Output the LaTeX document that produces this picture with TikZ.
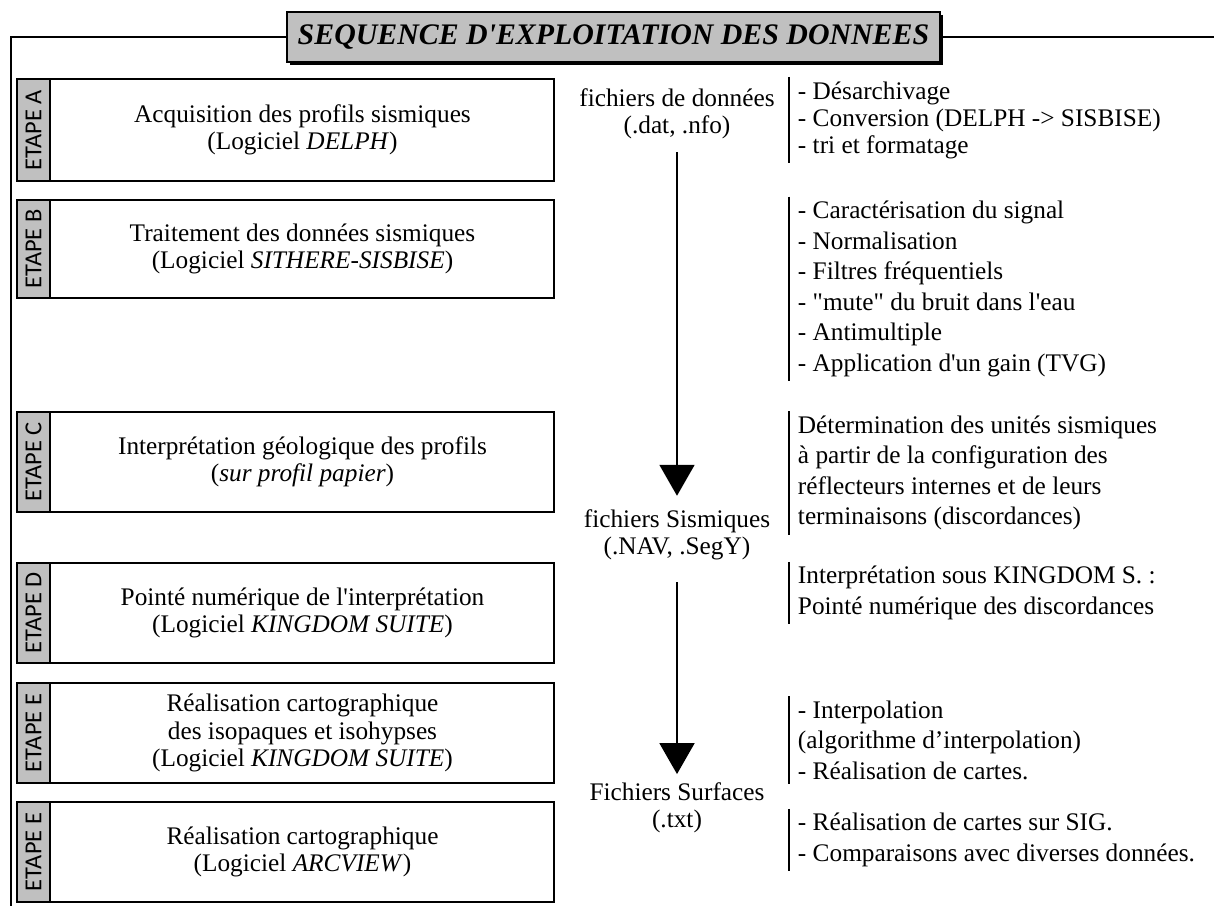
\documentclass[tikz,border=0pt]{standalone}
\usepackage{fontspec}
\setmainfont{Liberation Serif}[Ligatures=TeXOff]
\newfontfamily\tabfont{Carlito}
\usetikzlibrary{arrows.meta,positioning,shadows}
\definecolor{TabGray}{HTML}{C0C0C0}

\begin{document}
\begin{tikzpicture}[x=0.02cm,y=-0.02cm,line width=1.1pt,
    font=\fontsize{14.4}{15.65}\selectfont,
    titlebox/.style={draw,fill=TabGray,minimum width=13.06cm,minimum height=1cm,
      font=\fontsize{17}{20}\selectfont\bfseries\itshape,
      drop shadow={shadow xshift=0.06cm,shadow yshift=-0.06cm,fill=black,opacity=1}},
    stepbox/.style={draw,fill=white,minimum width=10.74cm,inner sep=0pt},
    tabbox/.style={draw,fill=TabGray,rotate=90,minimum height=0.66cm,inner sep=0pt,
      font=\tabfont\fontsize{13.9}{13.9}\selectfont},
    steptext/.style={align=center},
    filetext/.style={align=center},
    notelist/.style={align=left,anchor=west,inner xsep=0pt,inner ysep=2pt,
      font=\fontsize{14.4}{17.4}\selectfont},
    flow/.style={-{Triangle[width=0.7cm,length=0.62cm]},line width=1.1pt}]
  \useasboundingbox (0,0) rectangle (1214,906);

  % title and open frame
  \coordinate (frameBL) at (11,910);
  \coordinate (frameR) at (1214,37);
  \node[titlebox] (title) at (613.5,37) {SEQUENCE D'EXPLOITATION DES DONNEES};
  \draw (title.west) -| (frameBL);
  \draw (title.east) -- (frameR);

  % step boxes with their grey tabs
  \foreach \n/\y/\h/\l in {A/130/2.04/A,B/249/1.96/B,C/462/2/C,D/613/2/D,E/733/2/E,F/852/2/E}{
    \node[stepbox,minimum height=\h cm] (box\n) at (285.5,\y) {};
    \node[tabbox,minimum width=\h cm] (tab\n) at (33.5,\y) {ETAPE \l};
  }
  \node[steptext] (txtA) at (302.5,130) {Acquisition des profils sismiques\\(Logiciel \textit{DELPH})};
  \node[steptext] (txtB) at (302.5,249) {Traitement des données sismiques\\(Logiciel \textit{SITHERE-SISBISE})};
  \node[steptext] (txtC) at (302.5,462) {Interprétation géologique des profils\\(\textit{sur profil papier})};
  \node[steptext] (txtD) at (302.5,613) {Pointé numérique de l'interprétation\\(Logiciel \textit{KINGDOM SUITE})};
  \node[steptext] (txtE) at (302.5,733) {Réalisation cartographique\\des isopaques et isohypses\\(Logiciel \textit{KINGDOM SUITE})};
  \node[steptext] (txtF) at (302.5,852) {Réalisation cartographique\\(Logiciel \textit{ARCVIEW})};

  % file formats down the middle
  \node[filetext] (datA) at (677,114) {fichiers de données\\(.dat, .nfo)};
  \node[filetext] (datS) at (677,535) {fichiers Sismiques\\(.NAV, .SegY)};
  \node[filetext] (datF) at (677,808) {Fichiers Surfaces\\(.txt)};
  \draw[flow,shorten <=3.4pt,shorten >=4pt] (datA) -- (datS);
  \draw[flow,shorten <=8.5pt,shorten >=1pt] (datS) -- (datF);

  % operations on the right
  \node[notelist,font=\fontsize{14.4}{15.4}\selectfont] (noteA) at (797,120)
    {- Désarchivage\\- Conversion (DELPH -> SISBISE)\\- tri et formatage};
  \node[notelist] (noteB) at (797,289)
    {- Caractérisation du signal\\- Normalisation\\- Filtres fréquentiels\\- "mute" du bruit dans l'eau\\- Antimultiple\\- Application d'un gain (TVG)};
  \node[notelist] (noteC) at (797,473) {Détermination des unités sismiques\\à partir de la configuration des\\réflecteurs internes et de leurs\\terminaisons (discordances)};
  \node[notelist] (noteD) at (797,593) {Interprétation sous KINGDOM S. :\\Pointé numérique des discordances};
  \node[notelist] (noteE) at (797,740) {- Interpolation\\(algorithme d’interpolation)\\- Réalisation de cartes.};
  \node[notelist] (noteF) at (797,840) {- Réalisation de cartes sur SIG.\\- Comparaisons avec diverses données.};
  \foreach \n in {A,B,C,D,E,F}
    \draw ([xshift=-0.16cm]note\n.north west) -- ([xshift=-0.16cm]note\n.south west);
\end{tikzpicture}
\end{document}
